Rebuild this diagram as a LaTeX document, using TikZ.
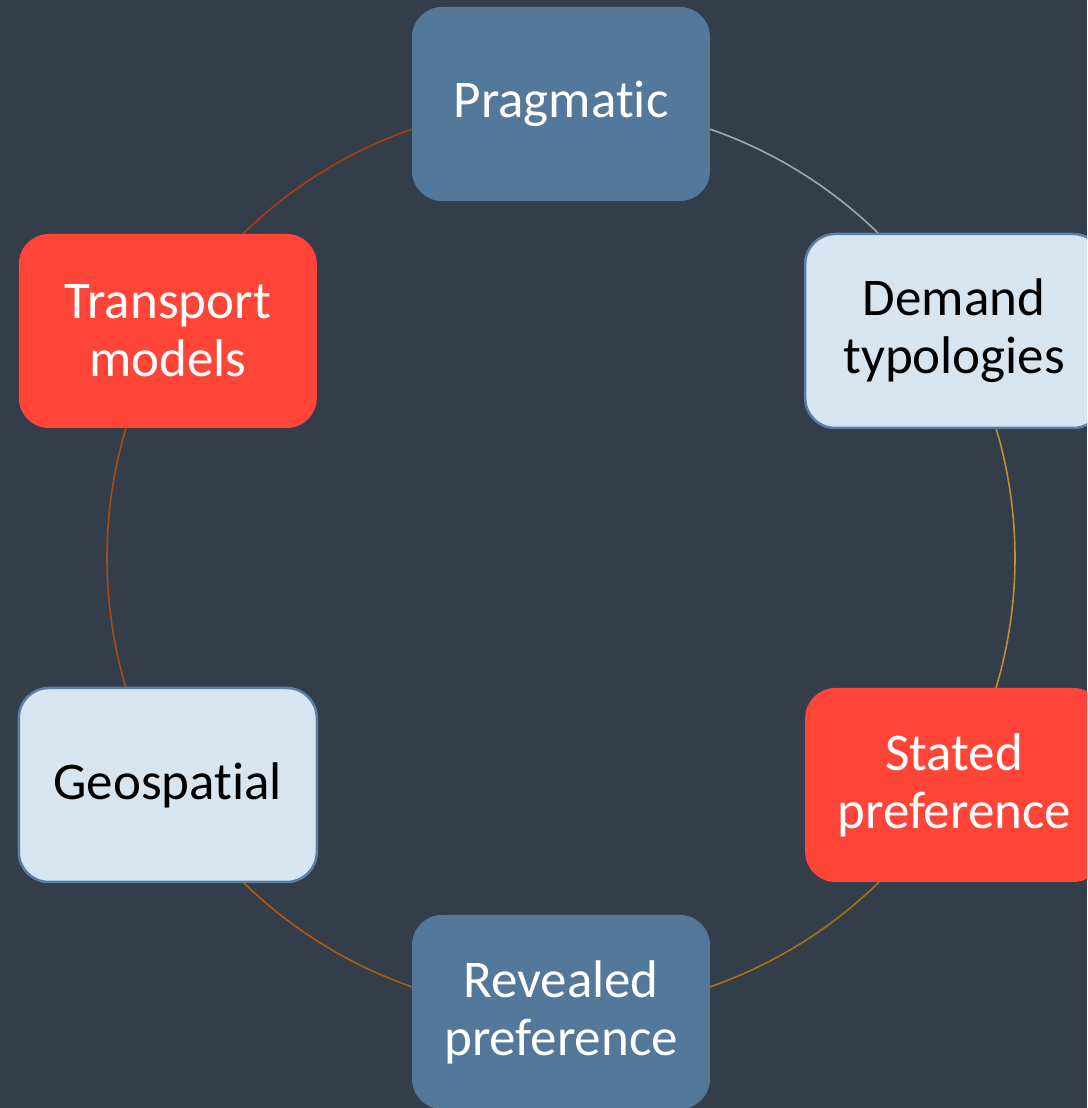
\documentclass[tikz,border=0pt]{standalone}
\usepackage{fontspec}
\setmainfont[Ligatures={NoCommon}]{Carlito}
\definecolor{bg}{HTML}{343D4A}
\definecolor{bluebox}{HTML}{54789A}
\definecolor{lightbox}{HTML}{D7E5F0}
\definecolor{lightedge}{HTML}{5B7FA3}
\definecolor{redbox}{HTML}{FF4538}
\definecolor{arcA}{HTML}{A3A7AB}
\definecolor{arcB}{HTML}{BF8F30}
\definecolor{arcC}{HTML}{A87212}
\definecolor{arcD}{HTML}{B05C10}
\definecolor{arcE}{HTML}{A84C12}
\definecolor{arcF}{HTML}{A63C12}
\tikzset{
  box/.style={rounded corners=30pt, minimum width=298pt, minimum height=194pt,
    inner sep=0pt, align=center, font=\fontsize{53}{58}\selectfont},
  bluestyle/.style={box, fill=bluebox, text=white},
  lightstyle/.style={box, fill=lightbox, draw=lightedge, line width=2.5pt, text=black},
  redstyle/.style={box, fill=redbox, text=white},
  ring/.style={line width=1.6pt}
}
\begin{document}
\begin{tikzpicture}[x=1pt,y=1pt]
\fill[bg] (0,0) rectangle (1087,1108);
\useasboundingbox (0,0) rectangle (1087,1108);
\clip (0,0) rectangle (1087,1108);
\coordinate (c) at (561,550);
\draw[ring,arcA] ([shift={(90:454)}]c) arc[start angle=90,end angle=30,radius=454];
\draw[ring,arcB] ([shift={(30:454)}]c) arc[start angle=30,end angle=-30,radius=454];
\draw[ring,arcC] ([shift={(-30:454)}]c) arc[start angle=-30,end angle=-90,radius=454];
\draw[ring,arcD] ([shift={(-90:454)}]c) arc[start angle=-90,end angle=-150,radius=454];
\draw[ring,arcE] ([shift={(-150:454)}]c) arc[start angle=-150,end angle=-210,radius=454];
\draw[ring,arcF] ([shift={(150:454)}]c) arc[start angle=150,end angle=90,radius=454];
\node[bluestyle] (prag) at ([shift={(90:454)}]c) {Pragmatic};
\node[lightstyle] (demand) at ([shift={(30:454)}]c) {Demand\\typologies};
\node[redstyle] (stated) at ([shift={(-30:454)}]c) {Stated\\preference};
\node[bluestyle] (revealed) at ([shift={(-90:454)}]c) {Revealed\\preference};
\node[lightstyle] (geo) at ([shift={(-150:454)}]c) {Geospatial};
\node[redstyle] (transport) at ([shift={(150:454)}]c) {Transport\\models};
\end{tikzpicture}
\end{document}
